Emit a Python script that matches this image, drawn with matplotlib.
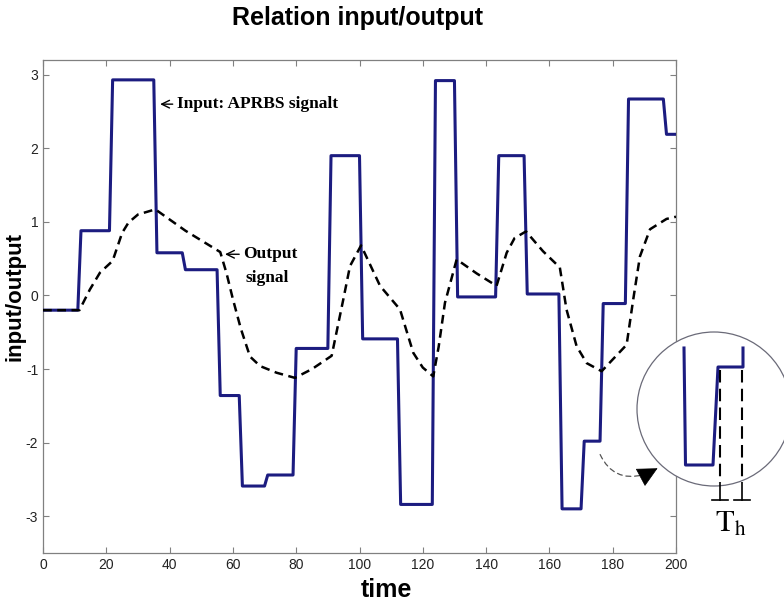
import matplotlib
matplotlib.use("Agg")
import matplotlib.pyplot as plt
from matplotlib.patches import Circle, FancyArrowPatch

plt.rcParams["axes.unicode_minus"] = False

# APRBS input: time at which each level is reached, and the level
level_start = [0, 12, 22, 36, 45, 56, 63, 71, 80, 91, 101, 113, 124, 131, 144, 153, 164, 171, 177, 185, 197]
levels = [-0.2, 0.88, 2.93, 0.58, 0.35, -1.36, -2.59, -2.44, -0.72, 1.90, -0.59, -2.84, 2.92, -0.02,
          1.90, 0.02, -2.90, -1.98, -0.11, 2.67, 2.19]
t_end = 200

# output signal
out_t = [0, 11.5, 14.8, 18, 22, 25, 27, 30, 35.5, 45, 56, 58, 60, 62.5, 65.4, 68.6, 73.8, 79.6, 85, 91.2,
         94.9, 97, 100.5, 106.5, 112.8, 115, 117, 120, 123.3, 125, 127, 130.7, 137, 143.3, 146.5, 149,
         152.6, 158, 163.3, 165.4, 168.6, 171.8, 176.5, 180, 184.4, 186.5, 188.6, 191.8, 197, 200]
out_y = [-0.2, -0.2, 0.08, 0.31, 0.47, 0.85, 0.99, 1.10, 1.17, 0.88, 0.59, 0.30, -0.05, -0.45, -0.83,
         -0.96, -1.05, -1.12, -1.0, -0.82, -0.05, 0.40, 0.68, 0.13, -0.19, -0.50, -0.78, -0.98, -1.10,
         -0.70, -0.10, 0.49, 0.30, 0.13, 0.58, 0.78, 0.87, 0.60, 0.38, -0.19, -0.69, -0.92, -1.03, -0.87,
         -0.67, -0.05, 0.53, 0.90, 1.04, 1.07]

xticks = list(range(0, 201, 20))
yticks = [-3, -2, -1, 0, 1, 2, 3]

# zoomed sketch in the circle (pixel coords of the figure)
sketch_x = [684, 685.5, 713, 718, 743, 743]
sketch_y = [348, 465, 465, 367, 367, 348]

navy = "#1c1c80"
gray = "#808080"

# build the held-level vertices of the input
in_t, in_y = [], []
for i, (t0, v) in enumerate(zip(level_start, levels)):
    t1 = level_start[i + 1] - 1 if i + 1 < len(level_start) else t_end
    in_t += [t0, t1]
    in_y += [v, v]

fig = plt.figure(figsize=(7.84, 6.03), dpi=100)
ax = fig.add_axes([43 / 784, 50 / 603, 633 / 784, 493 / 603])

ax.plot(in_t, in_y, color=navy, lw=2.2, zorder=3)
ax.plot(out_t, out_y, color="black", lw=1.8, ls=(0, (3.5, 2.2)), zorder=4)

ax.set_xlim(0, 200)
ax.set_ylim(-3.5, 3.2)
ax.set_xticks(xticks)
ax.set_yticks(yticks)
ax.tick_params(direction="in", top=True, right=True, length=4, color=gray, labelsize=10,
               labelcolor="#222222", labelfontfamily="Liberation Sans")
for sp in ax.spines.values():
    sp.set_color(gray)
    sp.set_linewidth(0.9)

ax.set_xlabel("time", fontsize=18, fontweight="bold", family="Liberation Sans")
ax.xaxis.set_label_coords(0.542, -0.075)
ax.xaxis.label.set_va("center")
ax.set_ylabel("input/output", fontsize=16, fontweight="bold", family="Liberation Sans")
ax.yaxis.set_label_coords(-0.045, 0.52)
ax.yaxis.label.set_va("center")

fig.text(358 / 784, 1 - 18 / 603, "Relation input/output", ha="center", va="center",
         fontsize=18, fontweight="bold", family="Liberation Sans")

serif = "Liberation Serif"
arrow_kw = dict(arrowstyle="->,head_length=0.45,head_width=0.22", lw=1.0, color="black",
                shrinkA=1, shrinkB=0, relpos=(0, 0.5))
ax.annotate("Input: APRBS signalt", xy=(37.0, 2.60), xytext=(42.3, 2.60), fontsize=12.5,
            fontweight="bold", family=serif, ha="left", va="center", arrowprops=arrow_kw)
ax.annotate("Output", xy=(57.5, 0.56), xytext=(63.3, 0.56), fontsize=12.5,
            fontweight="bold", family=serif, ha="left", va="center", arrowprops=arrow_kw)
ax.text(70.8, 0.24, "signal", fontsize=12.5, fontweight="bold", family=serif, ha="center", va="center")

# overlay in figure pixels for the magnifier sketch
ov = fig.add_axes([0, 0, 1, 1], zorder=5)
ov.set_xlim(0, 784)
ov.set_ylim(603, 0)
ov.axis("off")
ov.patch.set_alpha(0)

ov.add_patch(Circle((714, 409), 77, facecolor="white", edgecolor="#6a6a78", lw=0.9))
ov.plot(sketch_x, sketch_y, color=navy, lw=2.2)
for xv in (720, 742):
    ov.plot([xv, xv], [370, 483], color="black", lw=1.5, ls=(0, (6, 3)))
    ov.plot([xv, xv], [483, 500], color="black", lw=1.2)
    ov.plot([xv - 8, xv + 8], [500, 500], color="black", lw=1.2)
ov.text(731, 524, r"$\mathrm{T}_\mathrm{h}$", fontsize=22, ha="center", va="center",
        math_fontfamily="stix")

ov.add_patch(FancyArrowPatch((599, 452), (646, 474), connectionstyle="arc3,rad=0.45",
                             arrowstyle="-", color="#555555", lw=0.9, ls=(0, (4, 3))))
ov.add_patch(FancyArrowPatch((645, 475), (660, 467), arrowstyle="-|>,head_length=1.1,head_width=0.55",
                             mutation_scale=12, color="black", lw=0.5))

fig.savefig("out.png", dpi=100)
